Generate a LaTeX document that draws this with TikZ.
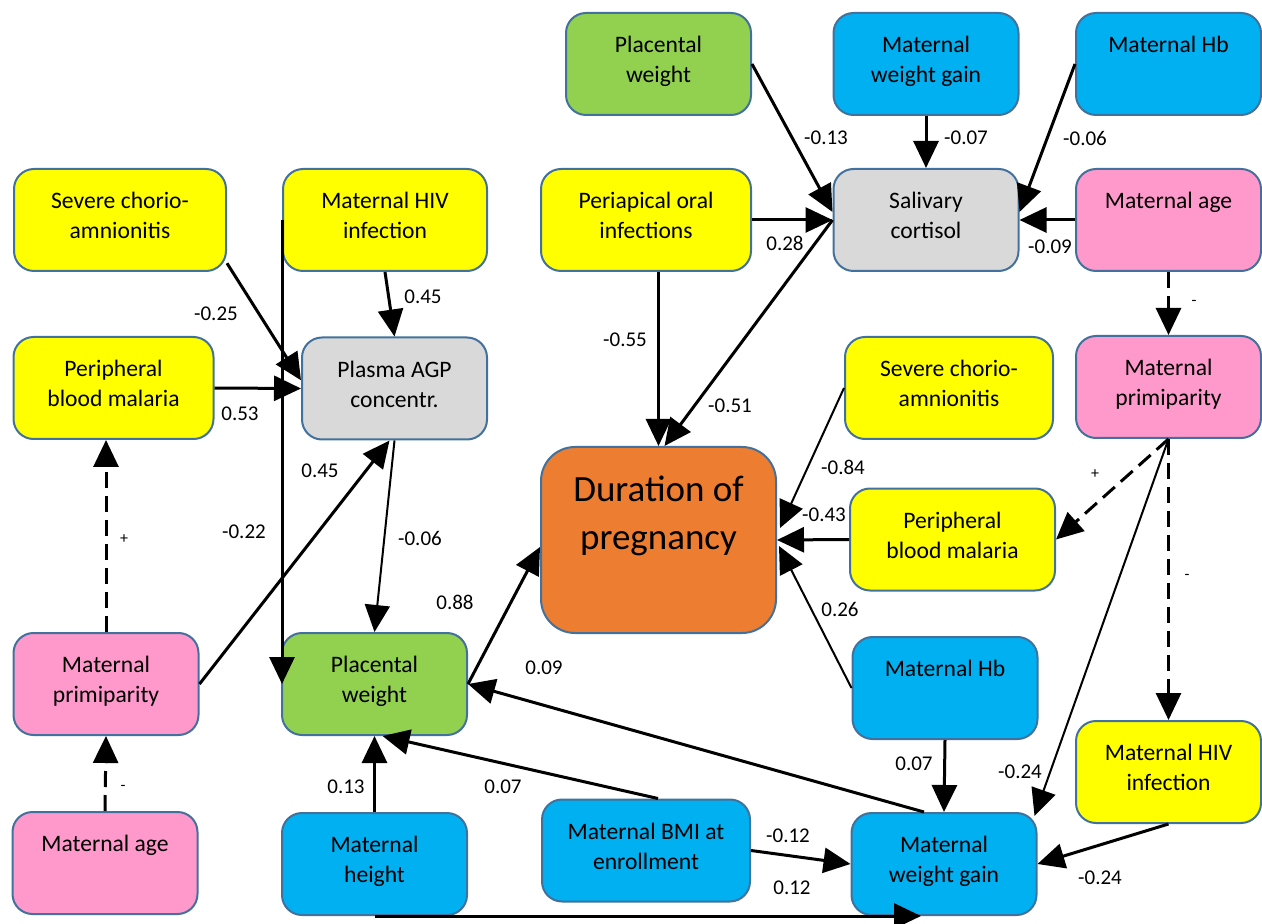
\documentclass[tikz,border=0pt]{standalone}
\usepackage{fontspec}
\setmainfont{Carlito}
\usepackage{tikz}
\usetikzlibrary{arrows.meta,calc,positioning}

\definecolor{boxline}{HTML}{41719C}
\definecolor{yel}{HTML}{FFFF00}
\definecolor{blu}{HTML}{00B0F0}
\definecolor{grn}{HTML}{92D050}
\definecolor{pnk}{HTML}{FF99CC}
\definecolor{gry}{HTML}{D9D9D9}
\definecolor{org}{HTML}{ED7D31}

\tikzset{
  box/.style={draw=boxline, line width=1pt, rounded corners=10pt, fill=#1,
    minimum width=92.5pt, minimum height=51pt, inner sep=0pt},
  txt/.style={label={[anchor=north, yshift=-12pt, inner sep=0pt, align=center,
    font=\fontsize{11.8}{15}\selectfont]north:{#1}}},
  bigtxt/.style={label={[anchor=north, yshift=-15pt, inner sep=0pt, align=center,
    font=\fontsize{18.5}{24}\selectfont]north:{#1}}},
  arr/.style={line width=1.5pt, -{Triangle[length=13.5pt,width=12.5pt]}},
  arrthin/.style={arr, line width=1pt},
  dasharr/.style={arr, dash pattern=on 8pt off 4pt},
  lbl/.style={font=\fontsize{10.5}{12}\selectfont, inner sep=0pt},
  sgn/.style={font=\fontsize{8}{10}\selectfont, inner sep=0pt},
}

\begin{document}
\begin{tikzpicture}[x=0.5pt, y=-0.5pt]
    \useasboundingbox (0,0) rectangle (1262,924);

    % left part
    \node[box=yel, minimum width=106pt, txt={Severe chorio-\\amnionitis}] (sc1) at (120,220) {};
    \node[box=yel, minimum width=102pt, txt={Maternal HIV\\infection}] (mhiv1) at (385,220) {};
    \node[box=yel, minimum width=100pt, txt={Peripheral\\blood malaria}] (pbm1) at (113.5,388) {};
    \node[box=gry, txt={Plasma AGP\\concentr.}] (agp) at (394.5,388.5) {};
    \node[box=pnk, txt={Maternal\\primiparity}] (prim1) at (106,684) {};
    \node[box=pnk, txt={Maternal age}] (age1) at (105,863) {};
    \node[box=grn, txt={Placental\\weight}] (pw1) at (374.5,684) {};

    % bottom row
    \node[box=blu, txt={Maternal\\height}] (height) at (374.5,864) {};
    \node[box=blu, minimum width=104pt, txt={Maternal BMI at\\enrollment}] (bmi) at (646,850.5) {};
    \node[box=blu, txt={Maternal\\weight gain}] (wg1) at (944,864) {};
    \node[box=blu, txt={Maternal Hb}] (hb1) at (945,688) {};
    \node[box=yel, txt={Maternal HIV\\infection}] (hiv2) at (1168.5,772) {};

    % top part
    \node[box=grn, txt={Placental\\weight}] (pw2) at (658.5,64) {};
    \node[box=blu, txt={Maternal\\weight gain}] (wg2) at (926,64) {};
    \node[box=blu, txt={Maternal Hb}] (hb2) at (1168.5,64) {};
    \node[box=yel, minimum width=105pt, txt={Periapical oral\\infections}] (poi) at (646,220) {};
    \node[box=gry, txt={Salivary\\cortisol}] (cort) at (926,220) {};
    \node[box=pnk, txt={Maternal age}] (age2) at (1168.5,220) {};

    % centre and right
    \node[box=org, minimum width=117.5pt, minimum height=93pt, rounded corners=17pt,
        bigtxt={Duration of\\pregnancy}] (dur) at (658.5,540) {};
    \node[box=yel, minimum width=104pt, txt={Severe chorio-\\amnionitis}] (sc2) at (949,388) {};
    \node[box=pnk, txt={Maternal\\primiparity}] (prim2) at (1168.5,387) {};
    \node[box=yel, minimum width=102.5pt, txt={Peripheral\\blood malaria}] (pbm2) at (952.5,539.5) {};

    % into plasma AGP
    \draw[arr] (sc1.-22) -- (agp.175) node[lbl] at (216,314) {-0.25};
    \draw[arr] (mhiv1.south) -- (agp.north) node[lbl] at (423,297) {0.45};
    \draw[arr] (pbm1.east) -- (agp.west) node[lbl] at (240,414) {0.53};
    \draw[arr] (prim1.east) -- ($(agp.south)+(-5,0)$) node[lbl] at (320,471) {0.45};
    \draw[dasharr] (prim1.north) -- (prim1.north |- pbm1.south) node[sgn] at (124,539) {+};
    \draw[dasharr] (age1.north) -- (prim1.south) node[sgn] at (123,788) {-};

    % into placental weight
    \draw[arr] (mhiv1.west) -- (mhiv1.west |- pw1.west) node[lbl] at (244,532) {-0.22};
    \draw[arrthin] (agp.south) -- (pw1.north) node[lbl] at (420,538) {-0.06};
    \draw[arr] ($(wg1.north)+(-20,0)$) -- (pw1.east) node[lbl] at (544,668) {0.09};
    \draw[arr] ($(bmi.north)+(12,0)$) -- ($(pw1.south)+(8,0)$) node[lbl] at (503,787) {0.07};
    \draw[arr] (height.north) -- (pw1.south) node[lbl] at (346,787) {0.13};

    % into weight gain
    \draw[arr] (height.south) -- ($(wg1.south)+(-23,0)$) node[lbl] at (792,888) {0.12};
    \draw[arr] (bmi.east) -- (wg1.west) node[lbl] at (788,836) {-0.12};
    \draw[arr] (hb1.south) -- (wg1.north) node[lbl] at (914,764) {0.07};
    \draw[arr] (hiv2.south) -- (wg1.east) node[lbl] at (1100,878) {-0.24};
    \draw[arrthin] (prim2.south) -- ($(wg1.north east)+(-3,4)$) node[lbl] at (1020,772) {-0.24};

    % right column
    \draw[dasharr] (age2.south) -- (prim2.north) node[sgn] at (1194,303) {-};
    \draw[dasharr] (prim2.south) -- (hiv2.north) node[sgn] at (1187,577) {-};
    \draw[dasharr] (prim2.south) -- (pbm2.east) node[sgn] at (1095,474) {+};

    % into duration of pregnancy
    \draw[arr] (pw1.east) -- ($(dur.west)+(0,7)$) node[lbl] at (455,602) {0.88};
    \draw[arr] (dur.north |- poi.south) -- (dur.north) node[lbl] at (625,340) {-0.55};
    \draw[arr] (cort.west) -- ($(dur.north)+(6,0)$) node[lbl] at (730,406) {-0.51};
    \draw[arrthin] (sc2.west) -- ($(dur.east)+(3,-12)$) node[lbl] at (843,467) {-0.84};
    \draw[arr] (pbm2.west) -- (dur.east) node[lbl] at (824,515) {-0.43};
    \draw[arrthin] (hb1.west) -- ($(dur.east)+(2,6)$) node[lbl] at (840,609) {0.26};

    % into salivary cortisol
    \draw[arr] (poi.east) -- (cort.west) node[lbl] at (785,243) {0.28};
    \draw[arr] (pw2.east) -- ($(cort.west)+(0,-8)$) node[lbl] at (826,138) {-0.13};
    \draw[arr] (wg2.south) -- (cort.north) node[lbl] at (966,138) {-0.07};
    \draw[arr] (hb2.west) -- ($(cort.east)+(0,-8)$) node[lbl] at (1085,138) {-0.06};
    \draw[arr] (age2.west) -- (cort.east) node[lbl] at (1050,247) {-0.09};
\end{tikzpicture}
\end{document}
